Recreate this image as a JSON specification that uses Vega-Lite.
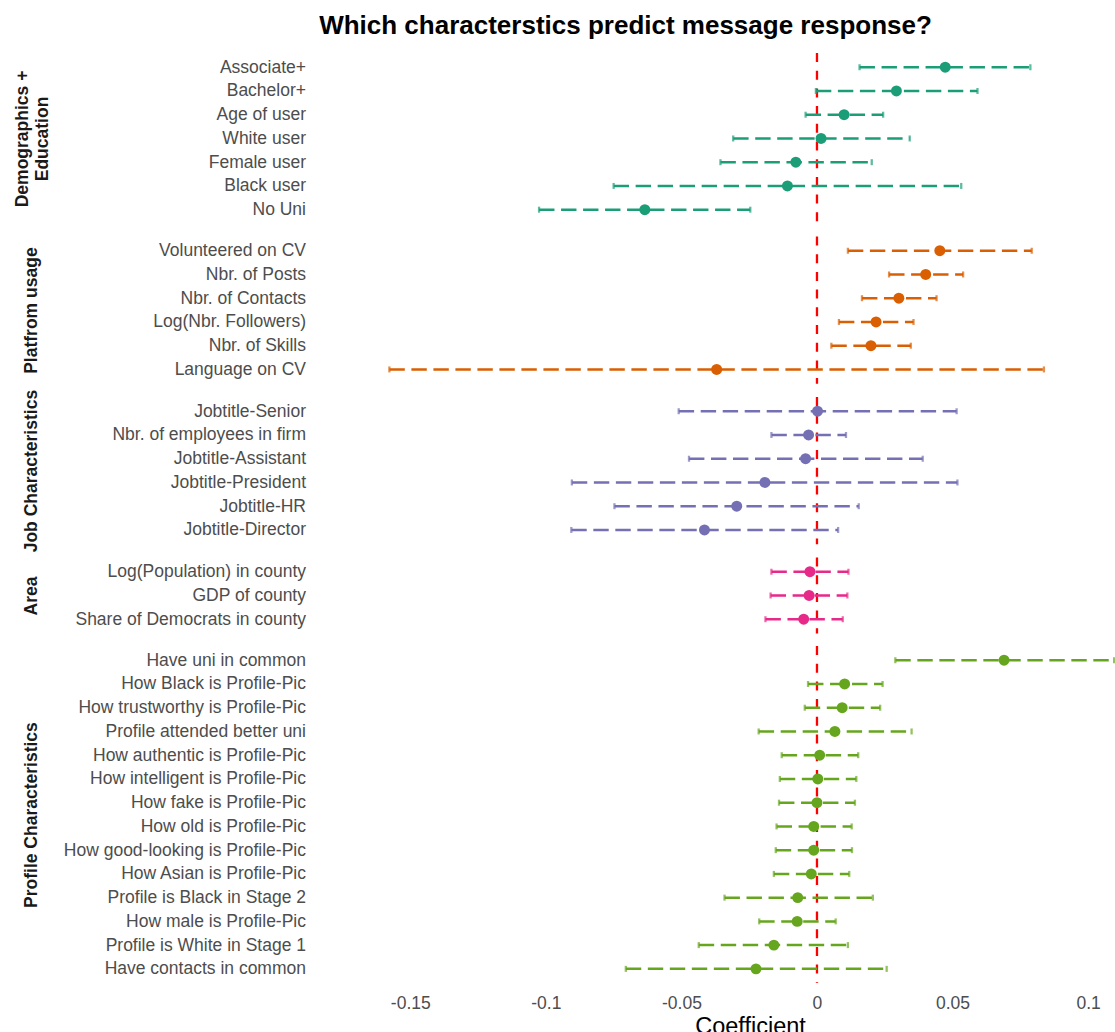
{
  "$schema": "https://vega.github.io/schema/vega-lite/v6.json",
  "autosize": {"type": "pad"},
  "padding": {"left": 13.5, "top": 12, "right": 0, "bottom": 0},
  "background": "white",
  "config": {
    "font": "Liberation Sans",
    "view": {"stroke": null},
    "axisY": {
      "ticks": false, "domain": false, "grid": false,
      "labelFontSize": 17.5, "labelColor": "#4d4d4d", "labelPadding": 5, "labelLimit": 400,
      "titleFontSize": 17.5, "titleFontWeight": "bold", "titleColor": "#1a1a1a",
      "titleAngle": -90, "titleAlign": "center", "titleBaseline": "middle", "titleLineHeight": 19.5
    },
    "axisX": {
      "ticks": false, "domain": false, "grid": false,
      "labelFontSize": 17.5, "labelColor": "#4d4d4d", "labelPadding": 11.5,
      "titleFontSize": 23.5, "titleFontWeight": "normal", "titleColor": "#000000", "titlePadding": 2
    },
    "point": {"filled": true, "opacity": 1, "size": 120, "shape": "circle"},
    "tick": {"thickness": 2.3, "size": 6, "orient": "vertical"}
  },
  "title": {
    "text": "Which characterstics predict message response?",
    "fontSize": 26,
    "fontWeight": "bold",
    "color": "#000000",
    "anchor": "middle",
    "offset": 13,
    "dx": 61
  },
  "data": {
    "values": [
      {"group": "Demographics + Education", "label": "Associate+", "est": 0.0473, "lo": 0.0157, "hi": 0.0787},
      {"group": "Demographics + Education", "label": "Bachelor+", "est": 0.0293, "lo": -0.0004, "hi": 0.0592},
      {"group": "Demographics + Education", "label": "Age of user", "est": 0.0100, "lo": -0.0042, "hi": 0.0244},
      {"group": "Demographics + Education", "label": "White user", "est": 0.0015, "lo": -0.0309, "hi": 0.0342},
      {"group": "Demographics + Education", "label": "Female user", "est": -0.0078, "lo": -0.0356, "hi": 0.0202},
      {"group": "Demographics + Education", "label": "Black user", "est": -0.0109, "lo": -0.0750, "hi": 0.0532},
      {"group": "Demographics + Education", "label": "No Uni", "est": -0.0635, "lo": -0.1025, "hi": -0.0246},
      {"group": "Platfrom usage", "label": "Volunteered on CV", "est": 0.0453, "lo": 0.0114, "hi": 0.0792},
      {"group": "Platfrom usage", "label": "Nbr. of Posts", "est": 0.0401, "lo": 0.0266, "hi": 0.0539},
      {"group": "Platfrom usage", "label": "Nbr. of Contacts", "est": 0.0302, "lo": 0.0166, "hi": 0.0441},
      {"group": "Platfrom usage", "label": "Log(Nbr. Followers)", "est": 0.0218, "lo": 0.0081, "hi": 0.0356},
      {"group": "Platfrom usage", "label": "Nbr. of Skills", "est": 0.0199, "lo": 0.0053, "hi": 0.0346},
      {"group": "Platfrom usage", "label": "Language on CV", "est": -0.0370, "lo": -0.1577, "hi": 0.0837},
      {"group": "Job Characteristics", "label": "Jobtitle-Senior", "est": 0.0002, "lo": -0.0510, "hi": 0.0515},
      {"group": "Job Characteristics", "label": "Nbr. of employees in firm", "est": -0.0031, "lo": -0.0168, "hi": 0.0107},
      {"group": "Job Characteristics", "label": "Jobtitle-Assistant", "est": -0.0042, "lo": -0.0472, "hi": 0.0390},
      {"group": "Job Characteristics", "label": "Jobtitle-President", "est": -0.0192, "lo": -0.0904, "hi": 0.0518},
      {"group": "Job Characteristics", "label": "Jobtitle-HR", "est": -0.0296, "lo": -0.0747, "hi": 0.0154},
      {"group": "Job Characteristics", "label": "Jobtitle-Director", "est": -0.0415, "lo": -0.0906, "hi": 0.0078},
      {"group": "Area", "label": "Log(Population) in county", "est": -0.0026, "lo": -0.0168, "hi": 0.0116},
      {"group": "Area", "label": "GDP of county", "est": -0.0029, "lo": -0.0171, "hi": 0.0112},
      {"group": "Area", "label": "Share of Democrats in county", "est": -0.0049, "lo": -0.0190, "hi": 0.0095},
      {"group": "Profile Characteristics", "label": "Have uni in common", "est": 0.0690, "lo": 0.0289, "hi": 0.1096},
      {"group": "Profile Characteristics", "label": "How Black is Profile-Pic", "est": 0.0102, "lo": -0.0033, "hi": 0.0242},
      {"group": "Profile Characteristics", "label": "How trustworthy is Profile-Pic", "est": 0.0093, "lo": -0.0045, "hi": 0.0233},
      {"group": "Profile Characteristics", "label": "Profile attended better uni", "est": 0.0066, "lo": -0.0215, "hi": 0.0349},
      {"group": "Profile Characteristics", "label": "How authentic is Profile-Pic", "est": 0.0010, "lo": -0.0130, "hi": 0.0152},
      {"group": "Profile Characteristics", "label": "How intelligent is Profile-Pic", "est": 0.0003, "lo": -0.0137, "hi": 0.0145},
      {"group": "Profile Characteristics", "label": "How fake is Profile-Pic", "est": 0.0000, "lo": -0.0140, "hi": 0.0140},
      {"group": "Profile Characteristics", "label": "How old is Profile-Pic", "est": -0.0012, "lo": -0.0149, "hi": 0.0128},
      {"group": "Profile Characteristics", "label": "How good-looking is Profile-Pic", "est": -0.0012, "lo": -0.0152, "hi": 0.0129},
      {"group": "Profile Characteristics", "label": "How Asian is Profile-Pic", "est": -0.0021, "lo": -0.0159, "hi": 0.0119},
      {"group": "Profile Characteristics", "label": "Profile is Black in Stage 2", "est": -0.0071, "lo": -0.0341, "hi": 0.0206},
      {"group": "Profile Characteristics", "label": "How male is Profile-Pic", "est": -0.0073, "lo": -0.0213, "hi": 0.0069},
      {"group": "Profile Characteristics", "label": "Profile is White in Stage 1", "est": -0.0159, "lo": -0.0436, "hi": 0.0114},
      {"group": "Profile Characteristics", "label": "Have contacts in common", "est": -0.0225, "lo": -0.0705, "hi": 0.0257}
    ]
  },
  "spacing": 12.5,
  "bounds": "flush",
  "resolve": {"scale": {"y": "independent"}},
  "vconcat": [
    {
      "transform": [{"filter": {"field": "group", "equal": "Demographics + Education"}}],
      "width": 805, "height": {"step": 23.74},
      "encoding": {
        "y": {"field": "label", "type": "nominal", "sort": null, "scale": {"type": "point", "padding": 0.6},
              "axis": {"title": ["Demographics +", "Education"], "titleX": -297, "titleBaseline": "top"}},
        "color": {"field": "group", "type": "nominal", "legend": null,
                  "scale": {"domain": ["Demographics + Education", "Platfrom usage", "Job Characteristics", "Area", "Profile Characteristics"], "range": ["#1b9e77", "#d95f02", "#7570b3", "#e7298a", "#66a61e"]}}
      },
      "layer": [
        {"transform": [{"aggregate": [{"op": "count", "as": "n"}]}],
         "mark": {"type": "rule", "color": "#ff0000", "strokeWidth": 2.3, "strokeDash": [9, 8.7]},
         "encoding": {"y": null, "color": null, "x": {"datum": 0, "type": "quantitative", "scale": {"domain": [-0.1868, 0.1101], "nice": false, "zero": false}, "axis": null}}},
        {"mark": {"type": "rule", "strokeWidth": 2.5, "strokeDash": [15.4, 6.6]},
         "encoding": {"x": {"field": "lo", "type": "quantitative"}, "x2": {"field": "hi"}}},
        {"mark": "tick", "encoding": {"x": {"field": "lo", "type": "quantitative"}}},
        {"mark": "tick", "encoding": {"x": {"field": "hi", "type": "quantitative"}}},
        {"mark": "point", "encoding": {"x": {"field": "est", "type": "quantitative"}}}
      ]
    },
    {
      "transform": [{"filter": {"field": "group", "equal": "Platfrom usage"}}],
      "width": 805, "height": {"step": 23.74},
      "encoding": {
        "y": {"field": "label", "type": "nominal", "sort": null, "scale": {"type": "point", "padding": 0.6},
              "axis": {"title": "Platfrom usage", "titleX": -279.5}},
        "color": {"field": "group", "type": "nominal", "legend": null,
                  "scale": {"domain": ["Demographics + Education", "Platfrom usage", "Job Characteristics", "Area", "Profile Characteristics"], "range": ["#1b9e77", "#d95f02", "#7570b3", "#e7298a", "#66a61e"]}}
      },
      "layer": [
        {"transform": [{"aggregate": [{"op": "count", "as": "n"}]}],
         "mark": {"type": "rule", "color": "#ff0000", "strokeWidth": 2.3, "strokeDash": [9, 8.7]},
         "encoding": {"y": null, "color": null, "x": {"datum": 0, "type": "quantitative", "scale": {"domain": [-0.1868, 0.1101], "nice": false, "zero": false}, "axis": null}}},
        {"mark": {"type": "rule", "strokeWidth": 2.5, "strokeDash": [15.4, 6.6]},
         "encoding": {"x": {"field": "lo", "type": "quantitative"}, "x2": {"field": "hi"}}},
        {"mark": "tick", "encoding": {"x": {"field": "lo", "type": "quantitative"}}},
        {"mark": "tick", "encoding": {"x": {"field": "hi", "type": "quantitative"}}},
        {"mark": "point", "encoding": {"x": {"field": "est", "type": "quantitative"}}}
      ]
    },
    {
      "transform": [{"filter": {"field": "group", "equal": "Job Characteristics"}}],
      "width": 805, "height": {"step": 23.74},
      "encoding": {
        "y": {"field": "label", "type": "nominal", "sort": null, "scale": {"type": "point", "padding": 0.6},
              "axis": {"title": "Job Characteristics", "titleX": -279.5}},
        "color": {"field": "group", "type": "nominal", "legend": null,
                  "scale": {"domain": ["Demographics + Education", "Platfrom usage", "Job Characteristics", "Area", "Profile Characteristics"], "range": ["#1b9e77", "#d95f02", "#7570b3", "#e7298a", "#66a61e"]}}
      },
      "layer": [
        {"transform": [{"aggregate": [{"op": "count", "as": "n"}]}],
         "mark": {"type": "rule", "color": "#ff0000", "strokeWidth": 2.3, "strokeDash": [9, 8.7]},
         "encoding": {"y": null, "color": null, "x": {"datum": 0, "type": "quantitative", "scale": {"domain": [-0.1868, 0.1101], "nice": false, "zero": false}, "axis": null}}},
        {"mark": {"type": "rule", "strokeWidth": 2.5, "strokeDash": [15.4, 6.6]},
         "encoding": {"x": {"field": "lo", "type": "quantitative"}, "x2": {"field": "hi"}}},
        {"mark": "tick", "encoding": {"x": {"field": "lo", "type": "quantitative"}}},
        {"mark": "tick", "encoding": {"x": {"field": "hi", "type": "quantitative"}}},
        {"mark": "point", "encoding": {"x": {"field": "est", "type": "quantitative"}}}
      ]
    },
    {
      "transform": [{"filter": {"field": "group", "equal": "Area"}}],
      "width": 805, "height": {"step": 23.74},
      "encoding": {
        "y": {"field": "label", "type": "nominal", "sort": null, "scale": {"type": "point", "padding": 0.6},
              "axis": {"title": "Area", "titleX": -279.5}},
        "color": {"field": "group", "type": "nominal", "legend": null,
                  "scale": {"domain": ["Demographics + Education", "Platfrom usage", "Job Characteristics", "Area", "Profile Characteristics"], "range": ["#1b9e77", "#d95f02", "#7570b3", "#e7298a", "#66a61e"]}}
      },
      "layer": [
        {"transform": [{"aggregate": [{"op": "count", "as": "n"}]}],
         "mark": {"type": "rule", "color": "#ff0000", "strokeWidth": 2.3, "strokeDash": [9, 8.7]},
         "encoding": {"y": null, "color": null, "x": {"datum": 0, "type": "quantitative", "scale": {"domain": [-0.1868, 0.1101], "nice": false, "zero": false}, "axis": null}}},
        {"mark": {"type": "rule", "strokeWidth": 2.5, "strokeDash": [15.4, 6.6]},
         "encoding": {"x": {"field": "lo", "type": "quantitative"}, "x2": {"field": "hi"}}},
        {"mark": "tick", "encoding": {"x": {"field": "lo", "type": "quantitative"}}},
        {"mark": "tick", "encoding": {"x": {"field": "hi", "type": "quantitative"}}},
        {"mark": "point", "encoding": {"x": {"field": "est", "type": "quantitative"}}}
      ]
    },
    {
      "transform": [{"filter": {"field": "group", "equal": "Profile Characteristics"}}],
      "width": 805, "height": {"step": 23.74},
      "encoding": {
        "y": {"field": "label", "type": "nominal", "sort": null, "scale": {"type": "point", "padding": 0.6},
              "axis": {"title": "Profile Characteristics", "titleX": -279.5}},
        "color": {"field": "group", "type": "nominal", "legend": null,
                  "scale": {"domain": ["Demographics + Education", "Platfrom usage", "Job Characteristics", "Area", "Profile Characteristics"], "range": ["#1b9e77", "#d95f02", "#7570b3", "#e7298a", "#66a61e"]}}
      },
      "layer": [
        {"transform": [{"aggregate": [{"op": "count", "as": "n"}]}],
         "mark": {"type": "rule", "color": "#ff0000", "strokeWidth": 2.3, "strokeDash": [9, 8.7]},
         "encoding": {"y": null, "color": null, "x": {"datum": 0, "type": "quantitative", "scale": {"domain": [-0.1868, 0.1101], "nice": false, "zero": false},
           "axis": {"values": [-0.15, -0.1, -0.05, 0, 0.05, 0.1], "labelExpr": "'' + datum.value", "title": "Coefficient", "titleX": 439.5}}}},
        {"mark": {"type": "rule", "strokeWidth": 2.5, "strokeDash": [15.4, 6.6]},
         "encoding": {"x": {"field": "lo", "type": "quantitative"}, "x2": {"field": "hi"}}},
        {"mark": "tick", "encoding": {"x": {"field": "lo", "type": "quantitative"}}},
        {"mark": "tick", "encoding": {"x": {"field": "hi", "type": "quantitative"}}},
        {"mark": "point", "encoding": {"x": {"field": "est", "type": "quantitative"}}}
      ]
    }
  ]
}
